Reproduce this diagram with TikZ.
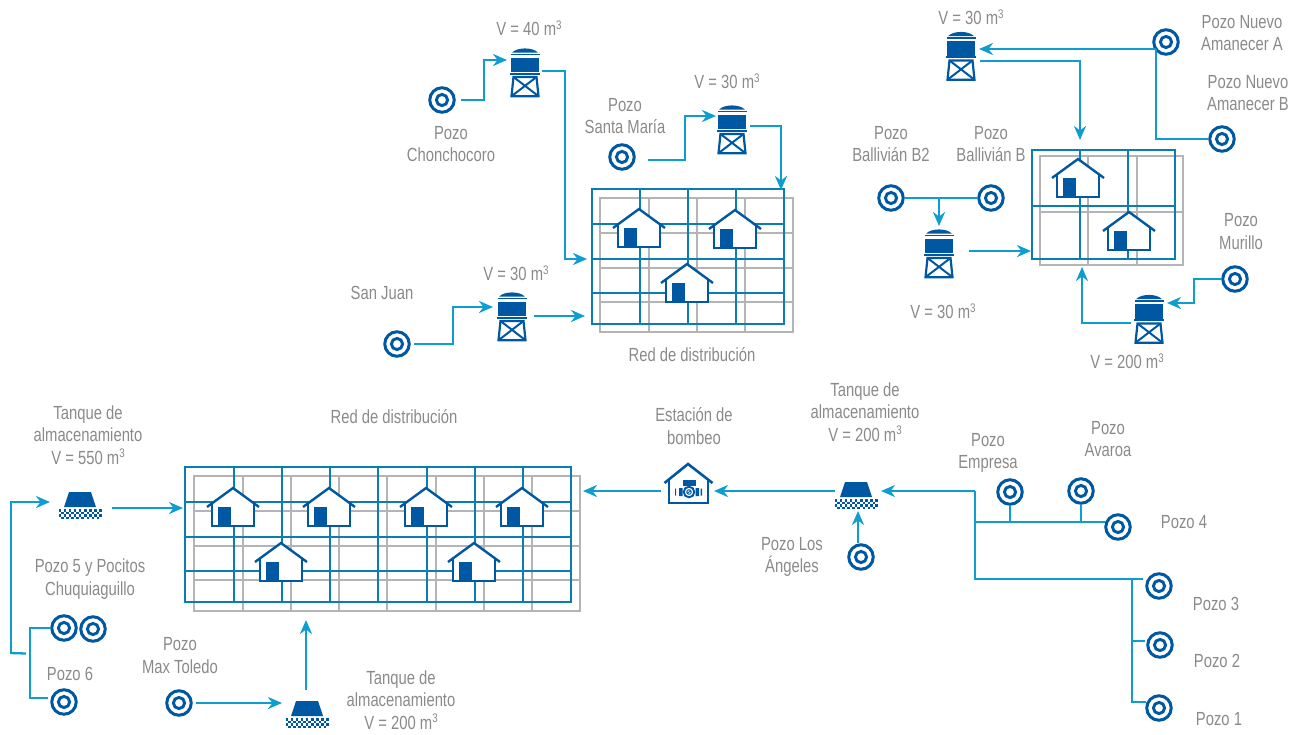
\documentclass[tikz,border=0pt]{standalone}
\usepackage{fontspec}
\setmainfont{Liberation Sans}[FakeStretch=0.78]
\usetikzlibrary{arrows.meta}
\definecolor{dblue}{HTML}{0058A2}
\definecolor{pipeblue}{HTML}{0E9DCF}
\definecolor{gridblue}{HTML}{0A7DB4}
\definecolor{gridgray}{HTML}{B4B4B4}
\definecolor{txtgray}{HTML}{8A8A8A}
\tikzset{
  lbl/.style={inner sep=0pt,align=center,text=txtgray,font=\fontsize{19}{22.5}\selectfont},
  wellnode/.style={circle,draw=dblue,fill=white,line width=3pt,minimum size=24.5pt,inner sep=0pt,
    path picture={\draw[dblue,line width=2.9pt] (path picture bounding box.center) circle[radius=5.6pt];}},
  towerbox/.style={rectangle,minimum width=30pt,minimum height=49pt,inner sep=0pt},
  basinbox/.style={rectangle,minimum width=43pt,minimum height=27pt,inner sep=0pt},
  pumpbox/.style={rectangle,minimum width=48pt,minimum height=39pt,inner sep=0pt},
  redbox/.style={rectangle,inner sep=0pt},
  pipe/.style={draw=pipeblue,line width=2.8pt,line join=miter},
  thinpipe/.style={draw=pipeblue,line width=1.8pt},
  midpipe/.style={draw=pipeblue,line width=2.3pt,line join=miter},
  flow/.style={pipe,-{Stealth[length=14pt,width=12pt,inset=4.5pt]}},
  midflow/.style={midpipe,-{Stealth[length=14pt,width=12pt,inset=4.5pt]}},
  gridb/.style={draw=gridblue,line width=2.2pt},
  gridg/.style={draw=gridgray,line width=2.2pt},
  tower/.pic={
    \fill[dblue] (-13,-19.8) .. controls (-8,-25.5) and (8,-25.5) .. (13,-19.8) -- cycle;
    \draw[dblue,line width=1.6pt] (-14.5,-18) -- (14.5,-18);
    \fill[dblue] (-14,-15) rectangle (14,-0.5);
    \draw[dblue,line width=1.6pt] (-15,1.2) -- (15,1.2);
    \draw[dblue,line width=2.2pt,line join=miter] (-11.5,4.5) -- (11.5,4.5) -- (13.5,23.7) -- (-13.5,23.7) -- cycle;
    \draw[dblue,line width=2pt] (-11.5,4.5) -- (13.5,23.7) (11.5,4.5) -- (-13.5,23.7);
  },
  house/.pic={
    \fill[white] (0,0) -- (-21,15) -- (-21,38) -- (21,38) -- (21,15) -- cycle;
    \draw[dblue,line width=2.2pt] (-21,15) -- (-21,38) -- (21,38) -- (21,15);
    \draw[dblue,line width=2.4pt] (-26,19) -- (0,0) -- (26,19);
    \fill[dblue] (-15,19) rectangle (-2,38);
  },
  basin/.pic={
    \fill[dblue] (-11,-14) -- (11,-14) -- (16,1) -- (-16,1) -- cycle;
    \foreach \i in {0,...,16}{\foreach \j in {0,...,3}{
      \pgfmathparse{int(mod(\i+\j,2))}
      \ifnum\pgfmathresult=0 \fill[dblue] (-21.5+2.55*\i,3+2.6*\j) rectangle ++(2.55,2.6);\fi
    }}
  },
  pump/.pic={
    \draw[dblue,line width=2.4pt] (-19,-8) -- (-19,15) -- (20,15) -- (20,-8);
    \draw[dblue,line width=2.6pt] (-23.5,-5) -- (0,-24) -- (24.5,-5);
    \fill[dblue] (-5,-8.5) rectangle (8,-2.5);
    \draw[dblue,line width=1.4pt] (1,-3) -- (1,0);
    \draw[dblue,line width=1.9pt] (1,4) circle[radius=5.3pt];
    \draw[dblue,line width=0.9pt] (1,4) circle[radius=2.3pt] (-1,5.5) -- (3,2.5);
    \fill[dblue] (-9,0) rectangle (-5.5,8) (7.5,0) rectangle (11,8);
    \fill[dblue] (-13,0.5) rectangle (-11.8,7.5) (12.5,0.5) rectangle (14,7.5);
  },
}
\newcommand\lab[4]{\node[lbl] (#1) at (#2,#3) {#4};}
\newcommand\wel[3]{\node[wellnode] (#1) at (#2,#3) {};}
\newcommand\twr[3]{\node[towerbox] (#1) at (#2,#3) {}; \pic at (#1) {tower};}
\newcommand\bsn[3]{\node[basinbox] (#1) at (#2,#3) {}; \pic at (#1) {basin};}
\newcommand\hse[2]{\pic at (#1,#2) {house};}
\newcommand\cub{m\raisebox{6.5pt}{\fontsize{12.5}{12.5}\selectfont 3}}
\begin{document}
\begin{tikzpicture}[x=1pt,y=-1pt]
\useasboundingbox (0,0) rectangle (1301,734);
% ---- grids
\foreach \x in {649,697,745}{\draw[gridg] (\x,198) -- (\x,332);}
\foreach \y in {233,268,302}{\draw[gridg] (600,\y) -- (793,\y);}
\draw[gridg] (600,198) rectangle (793,332);
\foreach \x in {640,688,736}{\draw[gridb] (\x,189) -- (\x,324);}
\foreach \y in {224,259,293}{\draw[gridb] (592,\y) -- (784,\y);}
\node[redbox,gridb,minimum width=192pt,minimum height=135pt] (redA) at (688,256.5) {};
\foreach \x in {1088,1137}{\draw[gridg] (\x,156) -- (\x,265);}
\draw[gridg] (1040,212) -- (1183,212);
\draw[gridg] (1040,156) rectangle (1183,265);
\foreach \x in {1080,1128}{\draw[gridb] (\x,150) -- (\x,259);}
\draw[gridb] (1032,206) -- (1175,206);
\node[redbox,gridb,minimum width=143pt,minimum height=109pt] (redB) at (1103.5,204.5) {};
\foreach \x in {243,291,339,387,436,484,532}{\draw[gridg] (\x,476) -- (\x,611);}
\foreach \y in {511,546,580}{\draw[gridg] (194,\y) -- (580,\y);}
\draw[gridg] (194,476) rectangle (580,611);
\foreach \x in {234,282,330,378,427,475,523}{\draw[gridb] (\x,467) -- (\x,602);}
\foreach \y in {502,537,571}{\draw[gridb] (185,\y) -- (571,\y);}
\node[redbox,gridb,minimum width=386pt,minimum height=135pt] (redC) at (378,534.5) {};
% ---- houses
\hse{639}{209} \hse{735}{210} \hse{687}{264}
\hse{1078}{159} \hse{1129}{212}
\hse{233}{488} \hse{329}{488} \hse{426}{488} \hse{522}{488} \hse{281}{543} \hse{474}{543}
% ---- wells
\wel{wCh}{442}{100} \wel{wSM}{622}{157} \wel{wSJ}{397}{344}
\wel{wNA}{1166}{42} \wel{wNB}{1222}{139} \wel{wB2}{891}{198} \wel{wBB}{991}{198} \wel{wMu}{1235}{279}
\wel{wEm}{1010}{492} \wel{wAv}{1081}{491} \wel{w4}{1118}{527} \wel{w3}{1159}{586} \wel{w2}{1160}{645} \wel{w1}{1159}{708}
\wel{wLA}{861}{557} \wel{w5a}{64}{628} \wel{w5b}{93}{629} \wel{w6}{64}{702} \wel{wMT}{179}{703}
% ---- towers, basins, pump station
\twr{t1}{525}{72.5} \twr{t2}{732}{129.5} \twr{t3}{512}{316.5}
\twr{t4}{961}{56} \twr{t5}{939}{253.5} \twr{t6}{1149}{319}
\bsn{b1}{80}{506} \bsn{b2}{856}{496} \bsn{b3}{307}{715}
\node[pumpbox] (ps) at (688,488) {}; \pic at (ps) {pump};
% ---- connectors, top centre
\draw[flow,shorten <=5pt] (wCh.east) -- (484,100) -- (484,60) -- (507,60);
\draw[flow] (542,71) -- (565,71) -- (565,259) -- (587,259);
\draw[flow] (648,160) -- (685,160) -- (685,116) -- (716,116);
\draw[flow] (750,126) -- (781,126) -- (781,190);
\draw[flow,shorten <=3pt] (wSJ.east) -- (453,344) -- (453,307) -- (493,307);
\draw[flow] (534,316) -- (585,316);
% ---- connectors, top right
\draw[flow] (1156,49) -- (979,49);
\draw[pipe] (1156,49) -- (1156,139) -- (wNB.west);
\draw[flow] (980,61) -- (1080,61) -- (1080,140);
\draw[thinpipe] (wB2.east) -- (wBB.west);
\draw[midflow] (939,198) -- (939,226);
\draw[flow] (969,251) -- (1031,251);
\draw[midpipe] (wMu.west) -- (1194,279) -- (1194,303) -- (1180,303);
\draw[flow] (1194,303) -- (1167,303);
\draw[flow] (1131,323) -- (1082,323) -- (1082,267);
% ---- connectors, bottom
\draw[flow] (112,508) -- (183,508);
\draw[flow] (11,653) -- (11,502) -- (50,502);
\draw[midpipe] (10,653) -- (26,653.5);
\draw[midpipe] (w5a.west) -- (30,628) -- (30,698) -- (48,698);
\draw[flow,shorten <=3pt] (wMT.east) -- (282,703);
\draw[flow] (306,690) -- (306,620);
\draw[flow] (661,491) -- (583,491);
\draw[flow] (835,491) -- (714,491);
\draw[flow] (975,491) -- (881,491);
\draw[flow] (858,543) -- (858,511);
\draw[pipe] (975,491) -- (975,579) -- (1143,579);
\draw[thinpipe] (976,522) -- (1105,522);
\draw[midpipe] (wEm.south) -- (1010,522);
\draw[midpipe] (wAv.south) -- (1081,522);
\draw[midpipe] (1132,579) -- (1132,702) -- (1146,702);
\draw[midpipe] (1132,641) -- (1145,641);
% ---- labels
\lab{lV40}{529}{28}{V = 40 \cub}
\lab{lCh}{451}{144}{Pozo\\Chonchocoro}
\lab{lSM}{625}{116}{Pozo\\Santa María}
\lab{lV30a}{727}{81}{V = 30 \cub}
\lab{lSJ}{382}{293}{San Juan}
\lab{lV30b}{516}{273}{V = 30 \cub}
\lab{lRedA}{692}{355}{Red de distribución}
\lab{lV30c}{971}{17}{V = 30 \cub}
\lab{lNA}{1242}{33}{Pozo Nuevo\\Amanecer A}
\lab{lNB}{1248}{93}{Pozo Nuevo\\Amanecer B}
\lab{lB2}{891}{144}{Pozo\\Ballivián B2}
\lab{lBB}{991}{144}{Pozo\\Ballivián B}
\lab{lMu}{1241}{231.5}{Pozo\\Murillo}
\lab{lV30d}{943}{311}{V = 30 \cub}
\lab{lV200a}{1127}{361}{V = 200 \cub}
\lab{lTqR}{865}{412}{Tanque de\\almacenamiento\\V = 200 \cub}
\lab{lEB}{694}{426}{Estación de\\bombeo}
\lab{lRedC}{394}{417}{Red de distribución}
\lab{lTqL}{88}{435}{Tanque de\\almacenamiento\\V = 550 \cub}
\lab{lP5}{90}{579}{Pozo 5 y Pocitos\\Chuquiaguillo}
\lab{lP6}{70}{674}{Pozo 6}
\lab{lMT}{180}{655.5}{Pozo\\Max Toledo}
\lab{lTqB}{401}{700}{Tanque de\\almacenamiento\\V = 200 \cub}
\lab{lLA}{792}{557}{Pozo Los\\Ángeles}
\lab{lEm}{988}{453}{Pozo\\Empresa}
\lab{lAv}{1108}{439}{Pozo\\Avaroa}
\lab{lP4}{1184}{522}{Pozo 4}
\lab{lP3}{1216}{604}{Pozo 3}
\lab{lP2}{1217}{661}{Pozo 2}
\lab{lP1}{1219}{719}{Pozo 1}
\end{tikzpicture}
\end{document}
